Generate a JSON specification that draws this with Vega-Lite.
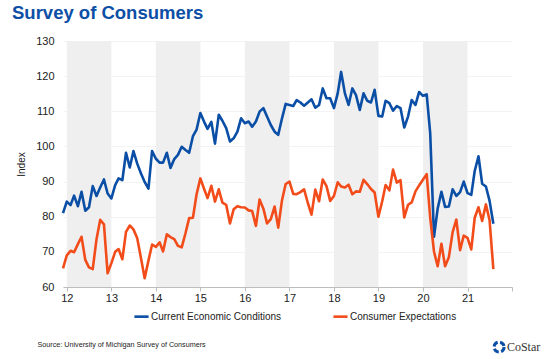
{
  "$schema": "https://vega.github.io/schema/vega-lite/v6.json",
  "width": 449,
  "height": 246,
  "autosize": {"type": "none"},
  "padding": {"left": 63, "top": 41, "right": 44, "bottom": 72},
  "background": "white",
  "config": {
    "view": {"stroke": null},
    "font": "Liberation Sans",
    "axisY": {"tickCount": 8, "labelOverlap": false, "domain": false, "ticks": false, "grid": true, "gridColor": "#f3f3f3", "gridWidth": 1.2, "labelFontSize": 11, "labelColor": "#222222", "labelPadding": 9, "titleFontSize": 10, "titleFontWeight": "normal", "titleColor": "#222222", "titlePadding": 9, "zindex": 1},
    "axisX": {"labelOverlap": false, "labelFlush": false, "grid": false}
  },
  "title": {"text": "Survey of Consumers", "anchor": "start", "frame": "group", "fontSize": 18.5, "fontWeight": "bold", "color": "#0d4fa6", "font": "Liberation Sans", "dx": -51, "dy": 20, "offset": 18, "baseline": "alphabetic"},
  "datasets": {
    "bands": [
      {"date": "2012-01-01", "end": "2013-01-01"},
      {"date": "2014-01-01", "end": "2015-01-01"},
      {"date": "2016-01-01", "end": "2017-01-01"},
      {"date": "2018-01-01", "end": "2019-01-01"},
      {"date": "2020-01-01", "end": "2021-01-01"}
    ],
    "survey": [
      {"date": "2011-12-01", "cur": 81.0, "exp": 65.3},
      {"date": "2012-01-01", "cur": 84.3, "exp": 69.0},
      {"date": "2012-02-01", "cur": 83.3, "exp": 70.3},
      {"date": "2012-03-01", "cur": 86.0, "exp": 69.9},
      {"date": "2012-04-01", "cur": 83.0, "exp": 72.2},
      {"date": "2012-05-01", "cur": 87.1, "exp": 74.3},
      {"date": "2012-06-01", "cur": 81.7, "exp": 67.7},
      {"date": "2012-07-01", "cur": 82.7, "exp": 65.6},
      {"date": "2012-08-01", "cur": 88.7, "exp": 65.1},
      {"date": "2012-09-01", "cur": 85.9, "exp": 73.6},
      {"date": "2012-10-01", "cur": 88.3, "exp": 79.1},
      {"date": "2012-11-01", "cur": 90.6, "exp": 77.8},
      {"date": "2012-12-01", "cur": 86.6, "exp": 63.9},
      {"date": "2013-01-01", "cur": 85.2, "exp": 66.8},
      {"date": "2013-02-01", "cur": 89.0, "exp": 70.0},
      {"date": "2013-03-01", "cur": 90.9, "exp": 70.8},
      {"date": "2013-04-01", "cur": 90.4, "exp": 67.9},
      {"date": "2013-05-01", "cur": 98.2, "exp": 75.7},
      {"date": "2013-06-01", "cur": 94.0, "exp": 77.5},
      {"date": "2013-07-01", "cur": 98.7, "exp": 76.4},
      {"date": "2013-08-01", "cur": 95.1, "exp": 73.9},
      {"date": "2013-09-01", "cur": 92.3, "exp": 68.2},
      {"date": "2013-10-01", "cur": 89.9, "exp": 62.5},
      {"date": "2013-11-01", "cur": 88.0, "exp": 67.5},
      {"date": "2013-12-01", "cur": 98.7, "exp": 72.1},
      {"date": "2014-01-01", "cur": 96.5, "exp": 71.4},
      {"date": "2014-02-01", "cur": 95.4, "exp": 72.7},
      {"date": "2014-03-01", "cur": 95.4, "exp": 70.1},
      {"date": "2014-04-01", "cur": 98.2, "exp": 75.0},
      {"date": "2014-05-01", "cur": 93.9, "exp": 74.2},
      {"date": "2014-06-01", "cur": 96.4, "exp": 73.6},
      {"date": "2014-07-01", "cur": 97.6, "exp": 71.7},
      {"date": "2014-08-01", "cur": 99.9, "exp": 71.3},
      {"date": "2014-09-01", "cur": 99.0, "exp": 75.3},
      {"date": "2014-10-01", "cur": 98.2, "exp": 79.6},
      {"date": "2014-11-01", "cur": 102.9, "exp": 79.7},
      {"date": "2014-12-01", "cur": 104.8, "exp": 86.4},
      {"date": "2015-01-01", "cur": 109.5, "exp": 90.9},
      {"date": "2015-02-01", "cur": 107.0, "exp": 87.9},
      {"date": "2015-03-01", "cur": 105.0, "exp": 85.3},
      {"date": "2015-04-01", "cur": 107.0, "exp": 88.8},
      {"date": "2015-05-01", "cur": 100.8, "exp": 84.3},
      {"date": "2015-06-01", "cur": 109.0, "exp": 87.8},
      {"date": "2015-07-01", "cur": 107.3, "exp": 84.0},
      {"date": "2015-08-01", "cur": 105.2, "exp": 83.4},
      {"date": "2015-09-01", "cur": 101.4, "exp": 78.1},
      {"date": "2015-10-01", "cur": 102.3, "exp": 82.1},
      {"date": "2015-11-01", "cur": 104.2, "exp": 83.0},
      {"date": "2015-12-01", "cur": 108.0, "exp": 82.7},
      {"date": "2016-01-01", "cur": 106.6, "exp": 82.6},
      {"date": "2016-02-01", "cur": 107.1, "exp": 81.8},
      {"date": "2016-03-01", "cur": 105.6, "exp": 81.6},
      {"date": "2016-04-01", "cur": 107.1, "exp": 77.4},
      {"date": "2016-05-01", "cur": 109.9, "exp": 84.9},
      {"date": "2016-06-01", "cur": 110.9, "exp": 82.3},
      {"date": "2016-07-01", "cur": 108.5, "exp": 78.1},
      {"date": "2016-08-01", "cur": 106.1, "exp": 79.3},
      {"date": "2016-09-01", "cur": 104.2, "exp": 82.9},
      {"date": "2016-10-01", "cur": 103.3, "exp": 76.9},
      {"date": "2016-11-01", "cur": 108.0, "exp": 84.7},
      {"date": "2016-12-01", "cur": 112.1, "exp": 89.3},
      {"date": "2017-01-01", "cur": 111.8, "exp": 90.0},
      {"date": "2017-02-01", "cur": 111.5, "exp": 86.5},
      {"date": "2017-03-01", "cur": 113.2, "exp": 86.4},
      {"date": "2017-04-01", "cur": 112.5, "exp": 87.0},
      {"date": "2017-05-01", "cur": 111.6, "exp": 87.8},
      {"date": "2017-06-01", "cur": 112.5, "exp": 83.9},
      {"date": "2017-07-01", "cur": 113.4, "exp": 80.6},
      {"date": "2017-08-01", "cur": 111.0, "exp": 87.7},
      {"date": "2017-09-01", "cur": 111.8, "exp": 84.4},
      {"date": "2017-10-01", "cur": 116.5, "exp": 90.6},
      {"date": "2017-11-01", "cur": 113.7, "exp": 88.7},
      {"date": "2017-12-01", "cur": 113.7, "exp": 84.5},
      {"date": "2018-01-01", "cur": 110.9, "exp": 85.9},
      {"date": "2018-02-01", "cur": 115.1, "exp": 89.8},
      {"date": "2018-03-01", "cur": 121.2, "exp": 88.6},
      {"date": "2018-04-01", "cur": 115.1, "exp": 88.3},
      {"date": "2018-05-01", "cur": 111.8, "exp": 89.1},
      {"date": "2018-06-01", "cur": 116.5, "exp": 86.4},
      {"date": "2018-07-01", "cur": 114.6, "exp": 87.2},
      {"date": "2018-08-01", "cur": 110.4, "exp": 87.1},
      {"date": "2018-09-01", "cur": 115.1, "exp": 90.5},
      {"date": "2018-10-01", "cur": 113.0, "exp": 89.3},
      {"date": "2018-11-01", "cur": 112.5, "exp": 87.9},
      {"date": "2018-12-01", "cur": 116.1, "exp": 86.9},
      {"date": "2019-01-01", "cur": 108.7, "exp": 80.0},
      {"date": "2019-02-01", "cur": 108.5, "exp": 84.4},
      {"date": "2019-03-01", "cur": 113.0, "exp": 89.0},
      {"date": "2019-04-01", "cur": 112.3, "exp": 87.5},
      {"date": "2019-05-01", "cur": 110.2, "exp": 93.4},
      {"date": "2019-06-01", "cur": 111.5, "exp": 89.7},
      {"date": "2019-07-01", "cur": 110.9, "exp": 90.4},
      {"date": "2019-08-01", "cur": 105.4, "exp": 79.8},
      {"date": "2019-09-01", "cur": 108.5, "exp": 83.4},
      {"date": "2019-10-01", "cur": 113.2, "exp": 84.1},
      {"date": "2019-11-01", "cur": 111.8, "exp": 87.2},
      {"date": "2019-12-01", "cur": 115.5, "exp": 88.9},
      {"date": "2020-01-01", "cur": 114.4, "exp": 90.5},
      {"date": "2020-02-01", "cur": 114.8, "exp": 92.1},
      {"date": "2020-03-01", "cur": 103.7, "exp": 79.7},
      {"date": "2020-04-01", "cur": 74.3, "exp": 70.1},
      {"date": "2020-05-01", "cur": 82.3, "exp": 65.9},
      {"date": "2020-06-01", "cur": 87.1, "exp": 72.3},
      {"date": "2020-07-01", "cur": 82.8, "exp": 65.9},
      {"date": "2020-08-01", "cur": 82.9, "exp": 68.5},
      {"date": "2020-09-01", "cur": 87.8, "exp": 75.6},
      {"date": "2020-10-01", "cur": 85.9, "exp": 79.2},
      {"date": "2020-11-01", "cur": 87.0, "exp": 70.5},
      {"date": "2020-12-01", "cur": 90.0, "exp": 74.6},
      {"date": "2021-01-01", "cur": 86.7, "exp": 74.0},
      {"date": "2021-02-01", "cur": 86.2, "exp": 70.7},
      {"date": "2021-03-01", "cur": 93.0, "exp": 79.7},
      {"date": "2021-04-01", "cur": 97.2, "exp": 82.7},
      {"date": "2021-05-01", "cur": 89.4, "exp": 78.8},
      {"date": "2021-06-01", "cur": 88.6, "exp": 83.5},
      {"date": "2021-07-01", "cur": 84.5, "exp": 79.0},
      {"date": "2021-08-01", "cur": 78.0, "exp": 65.1}
    ],
    "brand": [{"label": "CoStar"}]
  },
  "layer": [
    {
      "data": {"name": "bands"},
      "mark": {"type": "rect", "color": "#efefef"},
      "encoding": {
        "x": {"field": "date", "type": "temporal"},
        "x2": {"field": "end"}
      }
    },
    {
      "data": {"name": "survey"},
      "transform": [{"fold": ["cur", "exp"], "as": ["series", "value"]}],
      "mark": {"type": "line", "strokeWidth": 2.6, "strokeJoin": "round"},
      "encoding": {
        "x": {
          "field": "date",
          "type": "temporal",
          "scale": {"type": "utc", "domain": [{"year": 2011, "month": 12, "date": 1, "utc": true}, {"year": 2022, "month": 1, "date": 1, "utc": true}]},
          "axis": {
            "values": [
              {"year": 2012, "utc": true}, {"year": 2013, "utc": true}, {"year": 2014, "utc": true},
              {"year": 2015, "utc": true}, {"year": 2016, "utc": true}, {"year": 2017, "utc": true},
              {"year": 2018, "utc": true}, {"year": 2019, "utc": true}, {"year": 2020, "utc": true},
              {"year": 2021, "utc": true}, {"year": 2022, "utc": true}
            ],
            "labelExpr": "utcyear(datum.value) > 2021 ? '' : utcFormat(datum.value, '%y')",
            "grid": false,
            "domainColor": "#bdbdbd",
            "tickColor": "#bdbdbd",
            "tickSize": 4,
            "labelFontSize": 11,
            "labelColor": "#222222",
            "labelPadding": 1,
            "labelFlush": false,
            "labelOverlap": false,
            "title": "Source: University of Michigan Survey of Consumers",
            "titleFontSize": 7.2,
            "titleFontWeight": "normal",
            "titleColor": "#222222",
            "titleAnchor": "start",
            "titleAlign": "left",
            "titleBaseline": "alphabetic",
            "titleX": -26,
            "titleY": 59
          }
        },
        "y": {
          "field": "value",
          "type": "quantitative",
          "scale": {"domain": [60, 130], "nice": false, "zero": false},
          "axis": {"title": "Index", "values": [60, 70, 80, 90, 100, 110, 120, 130], "labelOverlap": false}
        },
        "color": {
          "field": "series",
          "type": "nominal",
          "scale": {"domain": ["cur", "exp"], "range": ["#0a4ea6", "#f24c1a"]},
          "legend": {
            "title": null,
            "orient": "none",
            "legendX": 70,
            "legendY": 267,
            "direction": "horizontal",
            "symbolType": "stroke",
            "symbolStrokeWidth": 2.6,
            "symbolSize": 200,
            "labelFontSize": 10,
            "labelColor": "#222222",
            "labelOffset": 1,
            "columnPadding": 46,
            "labelExpr": "datum.label == 'cur' ? 'Current Economic Conditions' : 'Consumer Expectations'"
          }
        }
      }
    },
    {
      "data": {"name": "brand"},
      "mark": {"type": "text", "font": "Liberation Serif", "fontSize": 12, "fill": "#333333", "align": "left", "baseline": "middle", "clip": false},
      "encoding": {
        "x": {"datum": {"year": 2021, "month": 11, "date": 20, "utc": true}, "type": "temporal"},
        "y": {"datum": 42.9, "type": "quantitative"},
        "text": {"field": "label"}
      }
    },
    {
      "data": {"name": "brand"},
      "mark": {"type": "point", "shape": "circle", "filled": false, "stroke": "#0a4ea6", "strokeWidth": 3, "size": 100, "strokeDash": [5.5, 2.5], "opacity": 1, "clip": false},
      "encoding": {
        "x": {"datum": {"year": 2021, "month": 9, "date": 17, "utc": true}, "type": "temporal"},
        "y": {"datum": 42.9, "type": "quantitative"}
      }
    }
  ]
}
